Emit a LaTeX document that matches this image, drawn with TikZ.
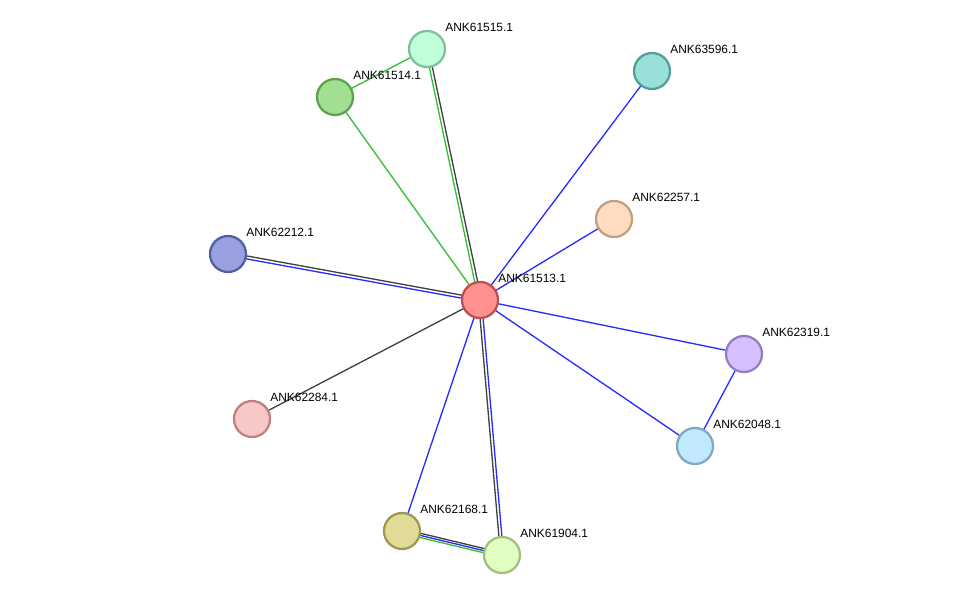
\documentclass[tikz,border=0pt]{standalone}
\usepackage{fontspec}
\setmainfont{Liberation Sans}
\usetikzlibrary{positioning,calc,backgrounds}

\definecolor{kcol}{HTML}{404040}
\definecolor{bcol}{HTML}{2A2AFF}
\definecolor{gcol}{HTML}{30C030}

\begin{document}
\begin{tikzpicture}[
  x=0.02cm,y=-0.02cm,
  prot/.style={circle,line width=1.3pt,minimum size=7.2mm,inner sep=0pt},
  lab/.style={inner sep=0pt,font=\fontsize{6.8}{8}\selectfont,text=black},
  kline/.style={kcol,line width=0.75pt},
  bline/.style={bcol,line width=0.75pt},
  gline/.style={gcol,line width=0.75pt},
]
\useasboundingbox (0,0) rectangle (976,601);

% ---- proteins ----
\node[prot,fill={rgb,255:red,255;green,145;blue,145},draw={rgb,255:red,192;green,80;blue,80}] (p61513) at (480,300) {};
\node[prot,fill={rgb,255:red,192;green,255;blue,216},draw={rgb,255:red,128;green,192;blue,160}] (p61515) at (427,49) {};
\node[prot,fill={rgb,255:red,160;green,224;blue,144},draw={rgb,255:red,96;green,160;blue,80}] (p61514) at (335,97) {};
\node[prot,fill={rgb,255:red,152;green,224;blue,216},draw={rgb,255:red,80;green,160;blue,152}] (p63596) at (652,71) {};
\node[prot,fill={rgb,255:red,255;green,220;blue,192},draw={rgb,255:red,192;green,160;blue,128}] (p62257) at (614,219) {};
\node[prot,fill={rgb,255:red,152;green,160;blue,224},draw={rgb,255:red,80;green,96;blue,160}] (p62212) at (228,254) {};
\node[prot,fill={rgb,255:red,216;green,192;blue,255},draw={rgb,255:red,144;green,128;blue,192}] (p62319) at (744,354) {};
\node[prot,fill={rgb,255:red,192;green,232;blue,255},draw={rgb,255:red,128;green,168;blue,192}] (p62048) at (695,446) {};
\node[prot,fill={rgb,255:red,248;green,200;blue,200},draw={rgb,255:red,192;green,128;blue,128}] (p62284) at (252,419) {};
\node[prot,fill={rgb,255:red,224;green,220;blue,152},draw={rgb,255:red,160;green,152;blue,80}] (p62168) at (402,531) {};
\node[prot,fill={rgb,255:red,224;green,255;blue,192},draw={rgb,255:red,160;green,192;blue,128}] (p61904) at (502,555) {};

% ---- names ----
\node[lab,right=3.6mm of p61513.center,yshift=4.3mm] (t61513) {ANK61513.1};
\node[lab,right=3.6mm of p61515.center,yshift=4.3mm] (t61515) {ANK61515.1};
\node[lab,right=3.6mm of p61514.center,yshift=4.3mm] (t61514) {ANK61514.1};
\node[lab,right=3.6mm of p63596.center,yshift=4.3mm] (t63596) {ANK63596.1};
\node[lab,right=3.6mm of p62257.center,yshift=4.3mm] (t62257) {ANK62257.1};
\node[lab,right=3.6mm of p62212.center,yshift=4.3mm] (t62212) {ANK62212.1};
\node[lab,right=3.6mm of p62319.center,yshift=4.3mm] (t62319) {ANK62319.1};
\node[lab,right=3.6mm of p62048.center,yshift=4.3mm] (t62048) {ANK62048.1};
\node[lab,right=3.6mm of p62284.center,yshift=4.3mm] (t62284) {ANK62284.1};
\node[lab,right=3.6mm of p62168.center,yshift=4.3mm] (t62168) {ANK62168.1};
\node[lab,right=3.6mm of p61904.center,yshift=4.3mm] (t61904) {ANK61904.1};

% ---- interactions ----
\begin{scope}[on background layer]
\draw[gline] (p61514.center) -- (p61515.center);
\draw[gline] (p61514.center) -- (p61513.center);
\draw[gline] ($(p61513.center)!0.85pt!90:(p61515.center)$) -- ($(p61515.center)!0.85pt!-90:(p61513.center)$);
\draw[kline] ($(p61513.center)!-0.85pt!90:(p61515.center)$) -- ($(p61515.center)!-0.85pt!-90:(p61513.center)$);
\draw[bline] (p61513.center) -- (p63596.center);
\draw[bline] (p61513.center) -- (p62257.center);
\draw[kline] ($(p62212.center)!0.85pt!90:(p61513.center)$) -- ($(p61513.center)!0.85pt!-90:(p62212.center)$);
\draw[bline] ($(p62212.center)!-0.85pt!90:(p61513.center)$) -- ($(p61513.center)!-0.85pt!-90:(p62212.center)$);
\draw[kline] (p61513.center) -- (p62284.center);
\draw[bline] (p61513.center) -- (p62319.center);
\draw[bline] (p61513.center) -- (p62048.center);
\draw[bline] (p62319.center) -- (p62048.center);
\draw[bline] (p61513.center) -- (p62168.center);
\draw[bline] ($(p61513.center)!0.85pt!90:(p61904.center)$) -- ($(p61904.center)!0.85pt!-90:(p61513.center)$);
\draw[kline] ($(p61513.center)!-0.85pt!90:(p61904.center)$) -- ($(p61904.center)!-0.85pt!-90:(p61513.center)$);
\draw[kline] ($(p62168.center)!1.2pt!90:(p61904.center)$) -- ($(p61904.center)!1.2pt!-90:(p62168.center)$);
\draw[bline] (p62168.center) -- (p61904.center);
\draw[gline] ($(p62168.center)!-1.2pt!90:(p61904.center)$) -- ($(p61904.center)!-1.2pt!-90:(p62168.center)$);
\end{scope}
\end{tikzpicture}
\end{document}
